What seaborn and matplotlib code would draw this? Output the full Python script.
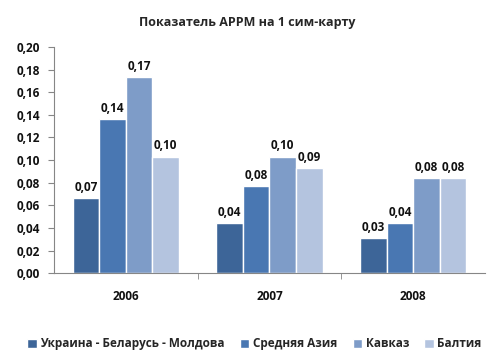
import pandas as pd
import numpy as np
import seaborn as sns
import matplotlib.pyplot as plt
from matplotlib.ticker import MultipleLocator, FixedLocator

years = ["2006", "2007", "2008"]
regions = ["Украина - Беларусь - Молдова", "Средняя Азия", "Кавказ", "Балтия"]
ukr_bel_mol = [0.066, 0.044, 0.031]
sred_aziya = [0.136, 0.077, 0.044]
kavkaz = [0.173, 0.103, 0.084]
baltiya = [0.103, 0.093, 0.084]
colors = ["#3D6598", "#4977B2", "#7E9CC8", "#B4C4DF"]

df = pd.DataFrame({
    "year": years * 4,
    "region": [r for r in regions for _ in years],
    "value": ukr_bel_mol + sred_aziya + kavkaz + baltiya,
})

sns.set_style("white")
plt.rcParams["font.family"] = ["Open Sans", "DejaVu Sans"]

fig = plt.figure(figsize=(4.94, 3.58), dpi=100)
ax = fig.add_axes([0.109, 0.237, 0.873, 0.632])

sns.barplot(data=df, x="year", y="value", hue="region", palette=colors,
            width=0.74, ax=ax, legend=True, saturation=1)

# подписи над столбиками
for cont in ax.containers:
    labels = [f"{b.get_height():.2f}".replace(".", ",") for b in cont]
    ax.bar_label(cont, labels=labels, padding=3, fontsize=8.5,
                 fontweight="bold", color="#111111")

ax.set_ylim(0, 0.2)
ax.set_xlim(-0.5, 2.5)
ax.yaxis.set_major_locator(MultipleLocator(0.02))
ax.yaxis.set_major_formatter(lambda v, p: f"{v:.2f}".replace(".", ","))
ax.xaxis.set_minor_locator(FixedLocator([0.5, 1.5]))
ax.tick_params(axis="x", which="major", length=0, pad=12, labelsize=8.5)
ax.tick_params(axis="x", which="minor", length=4, color="#868686", direction="out")
ax.tick_params(axis="y", length=4, color="#868686", direction="out", labelsize=8.5, pad=6)
ax.tick_params(axis="both", which="both", bottom=True, left=True)
for lab in ax.get_xticklabels() + ax.get_yticklabels():
    lab.set_fontweight("bold")
    lab.set_color("#111111")

sns.despine(ax=ax)
for s in ["left", "bottom"]:
    ax.spines[s].set_color("#868686")
    ax.spines[s].set_linewidth(0.8)

ax.set_xlabel("")
ax.set_ylabel("")
fig.suptitle("Показатель APPM на 1 сим-карту", x=0.5, y=0.955,
             fontsize=9, fontweight="bold")

handles, labs = ax.get_legend_handles_labels()
ax.legend_.remove()
fig.legend(handles, labs, loc="center", bbox_to_anchor=(0.515, 0.04), ncol=4,
           frameon=False, prop={"size": 8.5, "weight": "bold"},
           handlelength=0.8, handleheight=0.8, handletextpad=0.3,
           columnspacing=1.3)

fig.savefig("out.png", dpi=100)
